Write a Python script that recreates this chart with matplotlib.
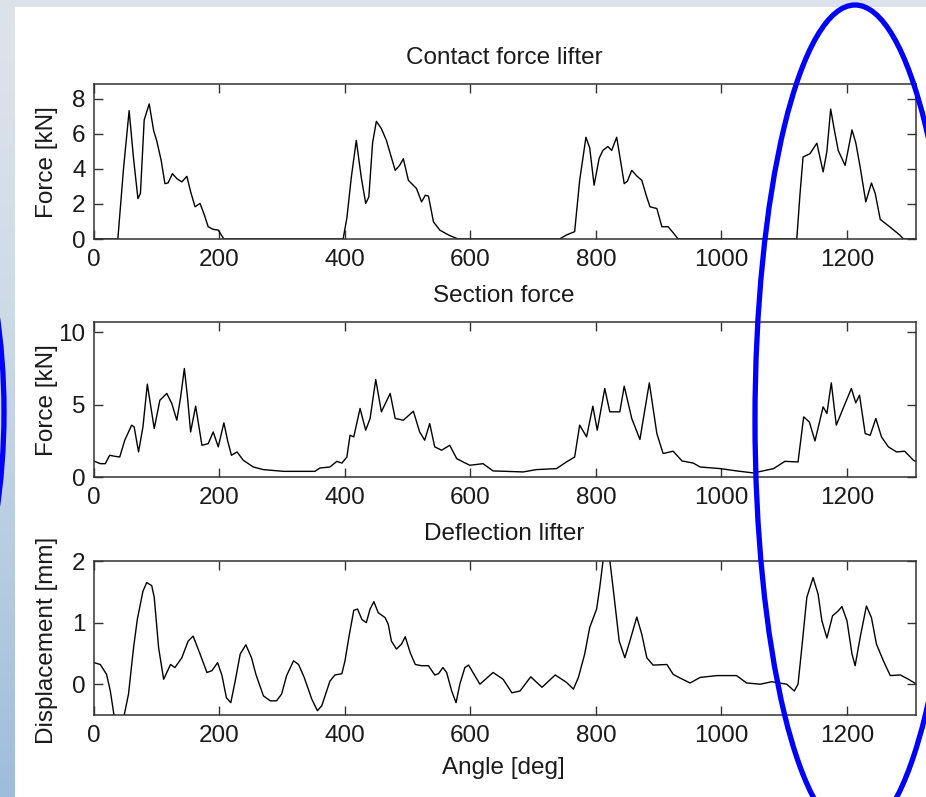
import numpy as np
import matplotlib
matplotlib.use("Agg")
import matplotlib.pyplot as plt
from matplotlib.patches import Ellipse, Rectangle

plt.rcParams['font.family'] = ['Liberation Sans', 'DejaVu Sans']

# ---------------- data ----------------
contact_angle = [0, 38, 47, 56, 63, 70, 74, 80, 88, 95, 100, 107, 113, 118, 125, 132, 140, 148, 154, 161,
                 169, 175, 182, 190, 198, 207, 397, 403, 410, 418, 426, 433, 438, 444, 450, 458, 466, 480,
                 487, 493, 501, 514, 522, 528, 533, 541, 551, 565, 580, 742, 753, 766, 774, 784, 790, 797,
                 805, 811, 819, 825, 833, 839, 845, 850, 857, 865, 873, 880, 886, 897, 905, 915, 922, 931,
                 1120, 1125, 1130, 1141, 1152, 1162, 1168, 1174, 1180, 1186, 1197, 1203, 1208, 1214, 1221,
                 1230, 1239, 1245, 1253, 1268, 1284, 1290, 1310]
contact_force = [0, 0, 4.0, 7.33, 4.6, 2.31, 2.6, 6.8, 7.71, 6.2, 5.6, 4.5, 3.16, 3.2, 3.73, 3.45, 3.26, 3.58, 2.7, 1.84,
                 2.03, 1.46, 0.70, 0.55, 0.51, 0, 0, 1.2, 3.5, 5.63, 3.5, 2.03, 2.4, 5.5, 6.72, 6.3, 5.63, 3.92,
                 4.2, 4.58, 3.35, 2.88, 2.12, 2.5, 2.45, 0.98, 0.51, 0.23, 0, 0, 0.23, 0.42, 3.35, 5.81, 5.2, 3.07,
                 4.6, 5.06, 5.28, 5.06, 5.81, 4.5, 3.16, 3.3, 3.92, 3.6, 3.35, 2.5, 1.84, 1.74, 0.70, 0.70, 0.4, 0,
                 0, 2.5, 4.68, 4.87, 5.47, 3.83, 5.0, 7.42, 6.2, 5.06, 4.2, 5.3, 6.23, 5.5, 4.11,
                 2.12, 3.2, 2.6, 1.12, 0.70, 0.23, 0, 0]

section_angle = [0, 10, 18, 25, 33, 41, 49, 60, 64, 71, 78, 85, 90, 96, 105, 116, 124, 132, 138, 144, 149, 154,
                 162, 172, 182, 190, 198, 207, 213, 219, 228, 238, 254, 270, 302, 352, 360, 376, 387, 395, 403,
                 408, 414, 424, 433, 440, 449, 458, 472, 480, 493, 509, 519, 527, 535, 543, 554, 567, 578, 590,
                 599, 620, 636, 684, 705, 737, 753, 766, 774, 785, 795, 802, 814, 822, 838, 845, 857, 870, 885,
                 897, 907, 923, 937, 955, 966, 998, 1024, 1051, 1083, 1101, 1122, 1131, 1140, 1149, 1162, 1168,
                 1175, 1183, 1197, 1207, 1214, 1220, 1229, 1237, 1246, 1255, 1266, 1279, 1292, 1306, 1311]
section_force = [1.1, 0.92, 0.92, 1.5, 1.43, 1.38, 2.54, 3.58, 3.46, 1.73, 3.46, 6.41, 5.0, 3.35, 5.3, 5.77, 5.07, 3.92, 5.5, 7.49, 5.5, 3.11,
                 4.89, 2.19, 2.3, 3.11, 2.08, 3.74, 2.5, 1.5, 1.73, 1.15, 0.69, 0.51, 0.39, 0.39, 0.62, 0.69, 1.08, 0.96, 1.38,
                 2.88, 2.77, 4.73, 3.23, 4.04, 6.73, 4.5, 5.77, 4.04, 3.92, 4.54, 3.11, 2.54, 3.69, 2.08, 1.85, 2.19, 1.27, 1.0,
                 0.81, 0.92, 0.42, 0.35, 0.51, 0.58, 1.04, 1.38, 3.58, 2.77, 4.89, 3.23, 6.11, 4.5, 4.5, 6.27, 4.04, 2.59, 6.5,
                 3.0, 1.62, 1.78, 1.11, 0.96, 0.69, 0.58, 0.42, 0.28, 0.58, 1.08, 1.04, 4.15, 3.8, 2.49, 4.84, 4.38,
                 6.5, 3.58, 5.07, 6.11, 5.12, 5.65, 3.0, 2.88, 4.04, 2.77, 2.08, 1.73, 1.78, 1.15, 1.04]

deflect_angle = [0, 10, 20, 26, 32, 40, 48, 55, 63, 69, 78, 84, 92, 96, 103, 111, 122, 129, 140, 150, 158, 169, 180,
                 188, 197, 204, 211, 218, 225, 233, 242, 251, 258, 270, 281, 291, 299, 307, 318, 326, 335, 347, 356,
                 363, 376, 384, 395, 400, 407, 414, 420, 427, 434, 440, 446, 453, 464, 469, 474, 482, 490, 496, 504,
                 512, 522, 533, 543, 549, 556, 562, 570, 577, 583, 591, 597, 615, 636, 652, 666, 679, 696, 714, 735,
                 753, 764, 772, 782, 790, 801, 806, 813, 818, 821, 829, 837, 846, 854, 865, 873, 881, 891, 913, 923,
                 934, 950, 966, 993, 1024, 1040, 1062, 1080, 1104, 1116, 1122, 1128, 1136, 1146, 1154, 1160, 1168,
                 1177, 1186, 1192, 1200, 1208, 1213, 1221, 1231, 1239, 1247, 1258, 1269, 1285, 1298, 1311]
deflect_mm = [0.35, 0.32, 0.16, -0.11, -0.51, -0.8, -0.51, -0.16, 0.59, 1.05, 1.51, 1.65, 1.6, 1.41, 0.59, 0.08, 0.32, 0.27, 0.43, 0.70, 0.78, 0.49, 0.19,
              0.22, 0.35, 0.14, -0.22, -0.30, 0.05, 0.49, 0.64, 0.43, 0.16, -0.19, -0.27, -0.27, -0.16, 0.14, 0.38, 0.32, 0.11, -0.24, -0.43,
              -0.35, 0.05, 0.15, 0.17, 0.38, 0.81, 1.2, 1.22, 1.05, 1.0, 1.22, 1.34, 1.16, 1.08, 0.97, 0.70, 0.57, 0.65, 0.77, 0.51,
              0.32, 0.30, 0.30, 0.15, 0.17, 0.27, 0.19, -0.11, -0.30, 0.0, 0.27, 0.31, 0.0, 0.19, 0.08, -0.14, -0.11, 0.12, -0.05, 0.15,
              0.03, -0.08, 0.11, 0.49, 0.92, 1.22, 1.57, 2.15, 2.2, 2.1, 1.41, 0.70, 0.43, 0.70, 1.09, 0.81, 0.43, 0.31, 0.32, 0.16,
              0.10, 0.02, 0.11, 0.14, 0.14, 0.02, 0.0, 0.04, 0.0, -0.11, 0.0, 0.59, 1.41, 1.73, 1.46, 1.03, 0.75,
              1.11, 1.19, 1.26, 1.03, 0.49, 0.30, 0.76, 1.27, 1.08, 0.65, 0.38, 0.14, 0.15, 0.08, 0.0]

titles = ["Contact force lifter", "Section force", "Deflection lifter"]
ylabels = ["Force [kN]", "Force [kN]", "Displacement [mm]"]
xlabel = "Angle [deg]"
xticks = [0, 200, 400, 600, 800, 1000, 1200]
yticks = [[0, 2, 4, 6, 8], [0, 5, 10], [0, 1, 2]]
ylims = [(0, 8.85), (0, 10.7), (-0.5, 2.0)]

# ---------------- figure ----------------
W, H = 926, 797
fig = plt.figure(figsize=(W / 100, H / 100), dpi=100)

def fx(px):
    return px / W

def fy(py):
    return 1 - py / H

# background
bg = fig.add_axes([0, 0, 1, 1], zorder=-10)
grad = np.linspace(0, 1, 256).reshape(-1, 1)
c_top = np.array([0.86, 0.89, 0.92])
c_bot = np.array([0.62, 0.74, 0.86])
img = c_top[None, None, :] * (1 - grad[:, :, None] ** 1.5) + c_bot[None, None, :] * (grad[:, :, None] ** 1.5)
bg.imshow(img, aspect='auto', extent=[0, 1, 0, 1])
bg.add_patch(Rectangle((fx(15), 0), 1, fy(7), transform=bg.transAxes, facecolor='white', edgecolor='none'))
bg.set_xlim(0, 1)
bg.set_ylim(0, 1)
bg.axis('off')

boxes = [(84, 239), (322, 477), (561, 715)]
left, right = 94, 916
series = [(contact_angle, contact_force), (section_angle, section_force), (deflect_angle, deflect_mm)]
title_y = [58, 296, 534]
ylabel_y = [162, 400, 640]
txtc = '#1a1a1a'
fs = 17.5

for i, ((top, bot), (xa, ya)) in enumerate(zip(boxes, series)):
    ax = fig.add_axes([fx(left), fy(bot), fx(right - left), (bot - top) / H])
    ax.plot(xa, ya, color='black', lw=1.0)
    ax.set_xlim(0, 1310)
    ax.set_ylim(*ylims[i])
    ax.set_xticks(xticks)
    ax.set_yticks(yticks[i])
    ax.tick_params(direction='in', top=True, right=True, length=6.5, width=1.0,
                   labelsize=fs, labelcolor=txtc, color='#333333')
    ax.tick_params(axis='x', pad=7)
    ax.tick_params(axis='y', pad=6)
    for s in ax.spines.values():
        s.set_linewidth(1.1)
        s.set_color('#333333')
    fig.text(fx(504), fy(title_y[i]), titles[i], ha='center', va='center',
             fontsize=fs, color=txtc)
    fig.text(fx(47), fy(ylabel_y[i]), ylabels[i], ha='center', va='center', rotation=90,
             fontsize=fs, color=txtc)

fig.text(fx(503), fy(768), xlabel, ha='center', va='center', fontsize=fs, color=txtc)

# blue annotation ellipses
fig.add_artist(Ellipse((fx(855), fy(420)), 2 * 100 / W, 2 * 415 / H, transform=fig.transFigure,
                       fill=False, edgecolor='#0000ff', lw=3.8, zorder=20, clip_on=False))
fig.add_artist(Ellipse((fx(-100), fy(412)), 2 * 104 / W, 2 * 270 / H, transform=fig.transFigure,
                       fill=False, edgecolor='#0000ff', lw=3.8, zorder=20, clip_on=False))

fig.savefig('out.png', dpi=100)
